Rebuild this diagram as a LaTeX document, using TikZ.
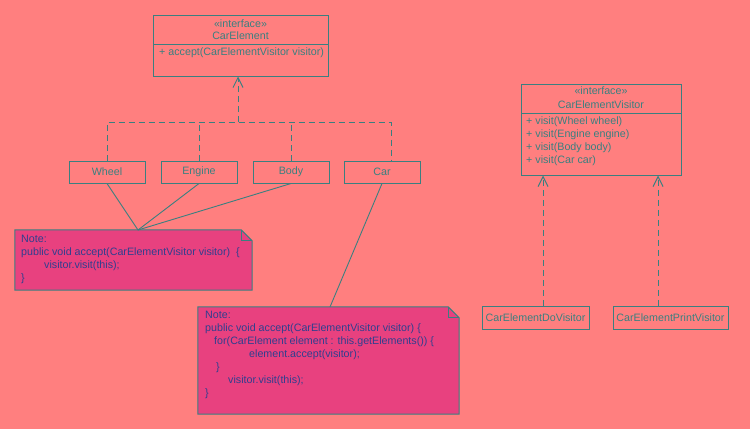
\documentclass[tikz,border=0pt]{standalone}
\usepackage{fontspec}
\setmainfont{Liberation Sans}
\usetikzlibrary{arrows.meta,calc}
\definecolor{bg}{HTML}{FF7F7F}
\definecolor{ln}{HTML}{3A7F80}
\definecolor{notefill}{HTML}{E8417F}
\definecolor{notetext}{HTML}{2F3F8F}
\begin{document}
\begin{tikzpicture}[x=1pt,y=-1pt,
  txtfont/.style={font=\fontsize{10.7}{13}\selectfont},
  cls/.style={draw=ln, line width=1pt, rectangle, inner sep=0pt, text=ln, txtfont},
  lbl/.style={text=ln, inner sep=0pt, txtfont, anchor=mid},
  lblw/.style={text=ln, inner sep=0pt, txtfont, anchor=mid west},
  ntxt/.style={text=notetext, inner sep=0pt, txtfont, anchor=mid west},
  notebox/.style={draw=none, inner sep=0pt, rectangle},
  noteshape/.style={draw=ln, fill=notefill, line width=1pt, line join=miter},
  dep/.style={draw=ln, line width=1pt, dash pattern=on 6pt off 4pt},
  realize/.style={dep, -{Straight Barb[length=10pt,width=10pt,line width=1pt]}},
  link/.style={draw=ln, line width=0.9pt}
]
\useasboundingbox[fill=bg] (0,0) rectangle (750,429);

% CarElement interface
\node[cls, minimum width=175pt, minimum height=61pt] (ce) at (240.5,45.5) {};
\draw[ln, line width=1pt] (153,44) -- (328,44);
\node[lbl] (ceS) at (240.5,25) {«interface»};
\node[lbl] (ceN) at (240.5,37) {CarElement};
\node[lblw] (ceM) at (159,53) {+ accept(CarElementVisitor visitor)};

% element classes
\node[cls, minimum width=76pt, minimum height=22pt] (wheel) at (107,172) {Wheel};
\node[cls, minimum width=76pt, minimum height=22pt] (engine) at (199,172) {Engine};
\node[cls, minimum width=76pt, minimum height=22pt] (body) at (291,172) {Body};
\node[cls, minimum width=76pt, minimum height=22pt] (car) at (382,172) {Car};

% realization tree
\coordinate (jl) at (107,122);
\coordinate (jr) at (391,122);
\coordinate (ja) at (238,122);
\draw[dep] (wheel.north) -- (jl) -- (jr) -- (391,0 |- car.north);
\draw[dep] (engine.north) -- (engine.north |- jl);
\draw[dep] (body.north) -- (body.north |- jl);
\draw[realize] (ja) -- (ja |- ce.south);

% Visitor interface
\node[cls, minimum width=160pt, minimum height=91pt] (cev) at (601,129.5) {};
\draw[ln, line width=1pt] (521,113) -- (681,113);
\node[lbl] (cevS) at (601,92) {«interface»};
\node[lbl] (cevN) at (601,106) {CarElementVisitor};
\node[lblw] (cev1) at (526,122) {+ visit(Wheel wheel)};
\node[lblw] (cev2) at (526,135) {+ visit(Engine engine)};
\node[lblw] (cev3) at (526,148) {+ visit(Body body)};
\node[lblw] (cev4) at (526,161) {+ visit(Car car)};

\node[cls, minimum width=107pt, minimum height=23pt] (dov) at (535.5,317.5) {CarElementDoVisitor};
\node[cls, minimum width=115pt, minimum height=23pt] (prv) at (670.5,317.5) {CarElementPrintVisitor};
\draw[realize] (543,0 |- dov.north) -- (543,0 |- cev.south);
\draw[realize] (658,0 |- prv.north) -- (658,0 |- cev.south);

% Note 1
\node[notebox, minimum width=237pt, minimum height=60pt] (n1) at (133.5,260) {};
\draw[noteshape] (n1.north west) -- ($(n1.north east)+(-11,0)$) -- ($(n1.north east)+(0,11)$) -- (n1.south east) -- (n1.south west) -- cycle;
\draw[ln, line width=1pt] ($(n1.north east)+(-11,0)$) -- ($(n1.north east)+(-11,11)$) -- ($(n1.north east)+(0,11)$);
\node[ntxt] at (21,240) {Note:};
\node[ntxt] at (21,253) {public void accept(CarElementVisitor visitor)\ \ \{};
\node[ntxt] at (44,266) {visitor.visit(this);};
\node[ntxt] at (21,279) {\}};
\coordinate (n1top) at (138,230);
\draw[link] (wheel.south) -- (n1top);
\draw[link] (engine.south) -- (n1top);
\draw[link] (body.south) -- (n1top);

% Note 2
\node[notebox, minimum width=261pt, minimum height=107pt] (n2) at (328.5,360.5) {};
\draw[noteshape] (n2.north west) -- ($(n2.north east)+(-11,0)$) -- ($(n2.north east)+(0,11)$) -- (n2.south east) -- (n2.south west) -- cycle;
\draw[ln, line width=1pt] ($(n2.north east)+(-11,0)$) -- ($(n2.north east)+(-11,11)$) -- ($(n2.north east)+(0,11)$);
\node[ntxt] at (205,316) {Note:};
\node[ntxt] at (205,329) {public void accept(CarElementVisitor visitor) \{};
\node[ntxt] at (214,342) {for(CarElement element : this.getElements()) \{};
\node[ntxt] at (249,355) {element.accept(visitor);};
\node[ntxt] at (216,368) {\}};
\node[ntxt] at (228,381) {visitor.visit(this);};
\node[ntxt] at (205,394) {\}};
\coordinate (n2top) at (330,307);
\draw[link] (car.south) -- (n2top);
\end{tikzpicture}
\end{document}
